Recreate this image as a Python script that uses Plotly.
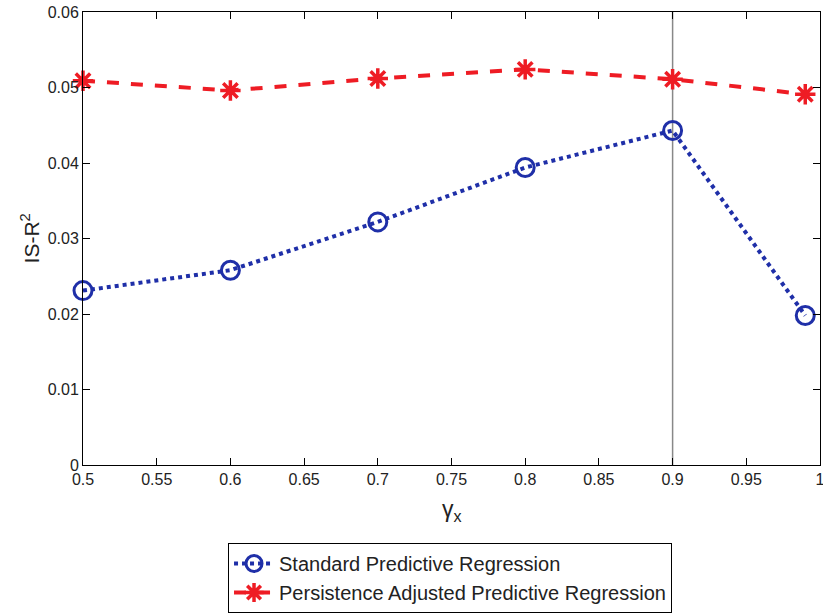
import plotly.graph_objects as go

gamma = [0.5, 0.6, 0.7, 0.8, 0.9, 0.99]
standard = [0.0231, 0.0258, 0.0322, 0.0394, 0.0443, 0.0198]
persistence = [0.0509, 0.0496, 0.0512, 0.0524, 0.0511, 0.0491]
x_ticks = [0.5, 0.55, 0.6, 0.65, 0.7, 0.75, 0.8, 0.85, 0.9, 0.95, 1]
x_tick_labels = ["0.5", "0.55", "0.6", "0.65", "0.7", "0.75", "0.8", "0.85", "0.9", "0.95", "1"]
y_ticks = [0, 0.01, 0.02, 0.03, 0.04, 0.05, 0.06]
y_tick_labels = ["0", "0.01", "0.02", "0.03", "0.04", "0.05", "0.06"]
vline_x = 0.9

FONT = "Liberation Sans, Arial"
TXT = "#222"

fig = go.Figure()
fig.add_trace(go.Scatter(
    x=gamma, y=standard, mode="lines+markers",
    name="Standard Predictive Regression", cliponaxis=False,
    line=dict(color="#1f2fa8", width=4, dash="dot"),
    marker=dict(symbol="circle-open", size=18, color="#1f2fa8", line=dict(width=3, color="#1f2fa8")),
))
fig.add_trace(go.Scatter(
    x=gamma, y=persistence, mode="lines+markers",
    name="Persistence Adjusted Predictive Regression", cliponaxis=False,
    line=dict(color="#ee1c24", width=4, dash="dash"),
    marker=dict(symbol="asterisk-open", size=17, color="#ee1c24", line=dict(width=3.5, color="#ee1c24")),
))
fig.add_shape(type="line", x0=vline_x, x1=vline_x, y0=0, y1=1, xref="x", yref="paper",
              line=dict(color="#888888", width=1.5), layer="below")

axis_common = dict(showgrid=False, zeroline=False, showline=True, linecolor="black", linewidth=1,
                   mirror="ticks", ticks="inside", ticklen=7, tickcolor="black", automargin=False,
                   ticklabeloverflow="allow",
                   tickfont=dict(family=FONT, size=16, color=TXT))
fig.update_xaxes(range=[0.5, 1], tickvals=x_ticks, ticktext=x_tick_labels, **axis_common)
fig.update_yaxes(range=[0, 0.06], tickvals=y_ticks, ticktext=y_tick_labels, **axis_common)

fig.add_annotation(text="IS-R<sup>2</sup>", xref="paper", yref="paper", x=-0.072, y=0.5,
                   textangle=-90, showarrow=False, xanchor="center", yanchor="middle",
                   font=dict(family=FONT, size=21, color=TXT))
fig.add_annotation(text="γ<sub>x</sub>", xref="paper", yref="paper", x=0.5, y=-0.1,
                   showarrow=False, xanchor="center", yanchor="middle",
                   font=dict(family=FONT, size=23, color=TXT))

fig.update_layout(
    width=823, height=616,
    margin=dict(l=83, r=3, t=12, b=145),
    paper_bgcolor="white", plot_bgcolor="white",
    showlegend=True,
    legend=dict(x=0.498, y=-0.2495, xanchor="center", yanchor="middle",
                bordercolor="black", borderwidth=1, bgcolor="white",
                font=dict(family=FONT, size=20, color=TXT),
                tracegroupgap=0, itemwidth=40),
)
fig.write_html("out.html", config={"displayModeBar": False},
               post_script="document.body.style.margin='0';")
